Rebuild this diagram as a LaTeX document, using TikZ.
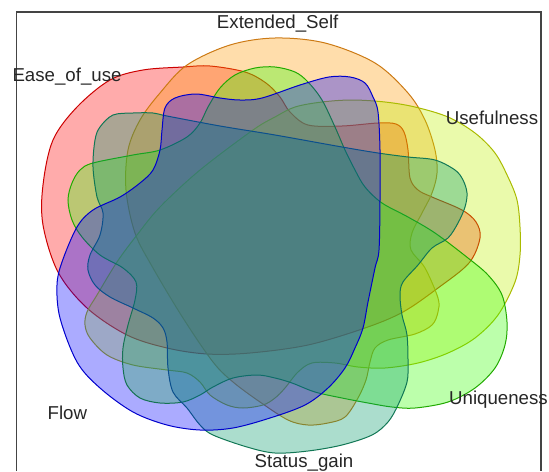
\documentclass[tikz,border=0pt]{standalone}
\usepackage{fontspec}
\setmainfont{Liberation Sans}
\usepackage{xcolor}
\definecolor{easeFill}{HTML}{FF0000}
\definecolor{easeLine}{HTML}{CC0000}
\definecolor{selfFill}{HTML}{FF9800}
\definecolor{selfLine}{HTML}{CC7A14}
\definecolor{usefFill}{HTML}{C0F000}
\definecolor{usefLine}{HTML}{AABB00}
\definecolor{uniqFill}{HTML}{33FF00}
\definecolor{uniqLine}{HTML}{22AA00}
\definecolor{statFill}{HTML}{009966}
\definecolor{statLine}{HTML}{117755}
\definecolor{flowFill}{HTML}{0000FF}
\definecolor{flowLine}{HTML}{0000CC}
\definecolor{frameGray}{HTML}{444444}

\begin{document}
\begin{tikzpicture}[x=0.75pt,y=0.75pt,yscale=-1,xscale=1,
  vennset/.style={line width=0.75pt, fill opacity=0.33},
  setlabel/.style={inner sep=0.75pt, text=black!85, font=\fontsize{14}{16}\selectfont}]
\useasboundingbox (0,0) rectangle (549,471);

%Frame
\draw [frameGray, line width=1pt] (16.8,471) -- (16.8,12) -- (541,12) -- (541,471) ;

%Shape: Ease_of_use
\draw [vennset, draw=easeLine, fill=easeFill] plot[smooth cycle, tension=0.55] coordinates {(183,67) (210,66) (245,72) (266,83) (280,97) (290,112) (308,125) (342,126) (378,123) (396,124) (404,132) (408,150) (410,178) (418,190) (432,197) (462,210) (476,222) (480,238) (469,263) (438,288) (403,312) (365,328) (308,345) (250,353) (207,354) (167,348) (127,335) (87,308) (58,272) (43,225) (43,185) (53,140) (77,107) (110,80) (143,70)} ;
%Shape: Extended_Self
\draw [vennset, draw=selfLine, fill=selfFill] plot[smooth cycle, tension=0.55] coordinates {(275,38) (325,43) (375,63) (408,93) (425,120) (435,150) (437,173) (432,193) (422,213) (412,233) (411,250) (425,268) (438,298) (438,312) (432,325) (415,334) (388,340) (375,348) (370,362) (366,380) (358,398) (345,417) (328,423) (308,425) (288,420) (260,402) (233,382) (213,362) (183,318) (153,268) (135,233) (126,190) (128,150) (140,120) (160,93) (187,65) (230,45)} ;
%Shape: Usefulness
\draw [vennset, draw=usefLine, fill=usefFill] plot[smooth cycle, tension=0.55] coordinates {(275,117) (295,107) (322,102) (352,100) (385,102) (415,107) (448,117) (475,133) (495,153) (508,177) (517,200) (520,227) (520,255) (515,282) (498,315) (475,338) (448,353) (418,363) (385,368) (358,367) (335,363) (312,363) (298,372) (285,388) (275,398) (263,405) (243,408) (227,405) (210,395) (200,382) (187,373) (167,370) (133,365) (107,355) (90,338) (85,325) (87,312) (97,295) (117,262) (137,235) (160,207) (200,170) (253,130)} ;
%Shape: Uniqueness
\draw [vennset, draw=uniqLine, fill=uniqFill] plot[smooth cycle, tension=0.55] coordinates {(275,67) (295,72) (308,82) (322,100) (335,127) (345,150) (355,170) (365,187) (382,203) (408,217) (435,233) (468,258) (488,275) (502,295) (507,322) (505,345) (495,368) (475,388) (448,402) (415,408) (392,407) (368,403) (342,398) (315,392) (292,383) (275,378) (257,375) (233,378) (213,387) (200,395) (183,402) (160,403) (140,398) (127,385) (123,368) (123,348) (128,325) (135,300) (136,282) (123,268) (100,255) (82,237) (72,220) (68,200) (72,183) (80,170) (93,163) (133,155) (160,150) (187,137) (200,123) (208,107) (220,88) (235,75) (255,68)} ;
%Shape: Status_gain
\draw [vennset, draw=statLine, fill=statFill] plot[smooth cycle, tension=0.55] coordinates {(113,115) (133,113) (153,113) (167,116) (220,126) (275,135) (342,147) (378,153) (408,157) (435,160) (455,170) (463,180) (467,193) (465,207) (458,223) (448,238) (432,248) (418,265) (403,282) (400,295) (402,315) (407,335) (408,362) (407,382) (398,405) (388,422) (372,435) (342,445) (308,451) (275,453) (247,447) (213,435) (200,425) (187,408) (173,392) (168,368) (167,342) (163,328) (153,318) (133,308) (110,297) (95,285) (88,270) (90,255) (100,235) (103,213) (97,197) (93,167) (95,140) (100,127)} ;
%Shape: Flow
\draw [vennset, draw=flowLine, fill=flowFill] plot[smooth cycle, tension=0.55] coordinates {(165,108) (175,98) (196,94) (220,98) (240,100) (262,98) (300,85) (329,77) (350,77) (365,83) (373,97) (378,112) (380,150) (380,200) (379,250) (375,268) (368,302) (363,328) (355,348) (345,368) (328,388) (305,405) (270,418) (233,428) (200,430) (167,425) (133,412) (100,388) (77,362) (60,318) (57,285) (62,262) (77,227) (93,210) (120,197) (140,183) (153,170) (160,150) (162,130)} ;

% Text Node
\draw (277.7,24) node (extself) [setlabel] {Extended\_Self};
% Text Node
\draw (67,77) node (easeuse) [setlabel] {Ease\_of\_use};
% Text Node
\draw (492,118) node (usefulness) [setlabel] {Usefulness};
% Text Node
\draw (498.5,400) node (uniqueness) [setlabel] {Uniqueness};
% Text Node
\draw (67.4,413) node (flow) [setlabel] {Flow};
% Text Node
\draw (304,463) node (statgain) [setlabel] {Status\_gain};

\end{tikzpicture}
\end{document}
